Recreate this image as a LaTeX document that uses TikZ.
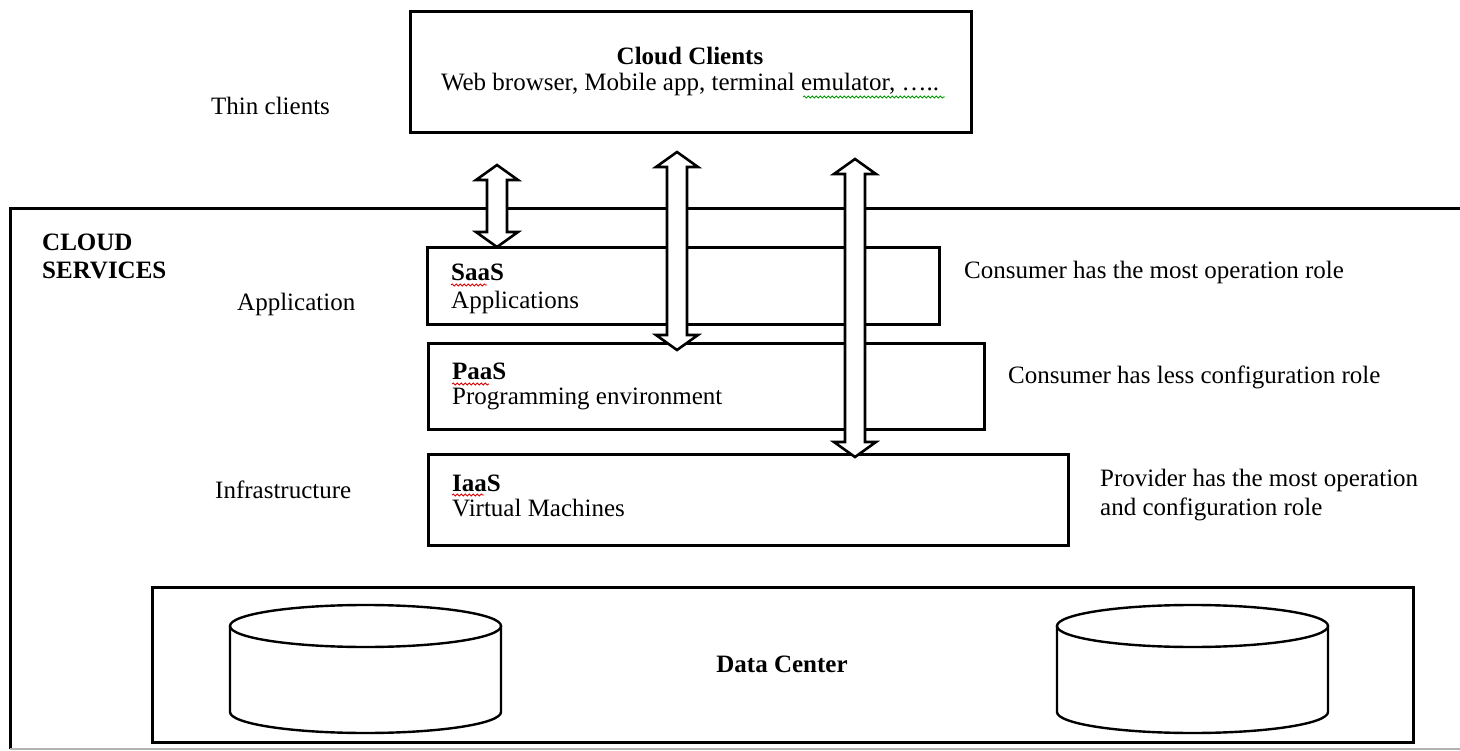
\documentclass[tikz,border=0pt]{standalone}
\usepackage{fontspec}
\setmainfont{Liberation Serif}
\usetikzlibrary{calc,decorations.pathmorphing}

\tikzset{
  layerbox/.style={draw, line width=2.6pt, inner sep=0pt, anchor=north west},
  txt/.style={font=\fontsize{25}{28}\selectfont, inner sep=0pt, anchor=base west},
  txtc/.style={font=\fontsize{25}{28}\selectfont, inner sep=0pt, anchor=base},
  heading/.style={txt, font=\fontsize{25}{28}\selectfont\bfseries},
  arrowbody/.style={draw, fill=white, line width=2.6pt, line join=miter},
  squiggle/.style={decorate, decoration={snake, amplitude=1.1pt, segment length=4pt}, line width=0.8pt},
  cyl/.style={draw, fill=white, line width=2.4pt},
}

% hollow double-headed block arrow between two tips (top, bottom)
\newcommand\fatarrow[2]{%
  \draw[arrowbody] (#1) -- ($(#1)+(21,15)$) -- ($(#1)+(10,15)$)
    -- ($(#2)+(10,-15)$) -- ($(#2)+(21,-15)$) -- (#2)
    -- ($(#2)+(-21,-15)$) -- ($(#2)+(-10,-15)$)
    -- ($(#1)+(-10,15)$) -- ($(#1)+(-21,15)$) -- cycle;}

% storage cylinder: centre x, top y, bottom y, half width
\newcommand\storagecyl[4]{%
  \draw[cyl] (#1-#4,#2) -- (#1-#4,#3)
    arc[start angle=180, end angle=0, x radius=#4, y radius=21]
    -- (#1+#4,#2);
  \draw[cyl] (#1,#2) ellipse[x radius=#4, y radius=21];}

\begin{document}
\begin{tikzpicture}[x=1pt, y=-1pt]
\useasboundingbox (0,0) rectangle (1460,751);
\clip (0,0) rectangle (1460,751);

% cloud services frame
\draw[line width=3pt] (10,749) -- (10,209) -- (1470,209);
\draw[gray!60, line width=1.5pt] (10,749) -- (1470,749);

% boxes
\node[layerbox, line width=3pt, minimum width=561pt, minimum height=121pt] (clients) at (409,10) {};
\node[layerbox, minimum width=512pt, minimum height=77pt] (saas) at (426,246) {};
\node[layerbox, minimum width=556pt, minimum height=86pt] (paas) at (427,342) {};
\node[layerbox, minimum width=640pt, minimum height=91pt] (iaas) at (427,453) {};
\node[layerbox, minimum width=1261pt, minimum height=155pt] (dc) at (151,586) {};

% client box text
\node[txtc, font=\fontsize{25}{28}\selectfont\bfseries] (cctitle) at (690,65) {Cloud Clients};
\node[txtc] (ccsub) at (690,91) {Web browser, Mobile app, terminal emulator, …..};
\draw[squiggle, green!60!black] (803,97) -- (945,97);

% side labels
\node[txt] (thin) at (211,115) {Thin clients};
\node[heading] (cs1) at (42,251) {CLOUD};
\node[heading] (cs2) at (42,279) {SERVICES};
\node[txt] (app) at (237,311) {Application};
\node[txt] (infra) at (215,498) {Infrastructure};

% layer texts
\node[heading] (saast) at (451,281) {SaaS};
\node[txt] (saasd) at (451,309) {Applications};
\draw[squiggle, red!85!black] (451,285) -- (487,285);
\node[heading] (paast) at (452,380) {PaaS};
\node[txt] (paasd) at (452,405) {Programming environment};
\draw[squiggle, red!85!black] (452,384) -- (489,384);
\node[heading] (iaast) at (452,491) {IaaS};
\node[txt] (iaasd) at (452,516) {Virtual Machines};
\draw[squiggle, red!85!black] (452,495) -- (484,495);

% role notes
\node[txt] (r1) at (964,279) {Consumer has the most operation role};
\node[txt] (r2) at (1008,384) {Consumer has less configuration role};
\node[txt] (r3a) at (1100,486) {Provider has the most operation};
\node[txt] (r3b) at (1100,515) {and configuration role};

% data center
\storagecyl{365.5}{626}{712}{135.5}
\storagecyl{1192.5}{626}{712}{135.5}
\node[txtc, font=\fontsize{25}{28}\selectfont\bfseries] (dct) at (782,672) {Data Center};

% access arrows from the clients down to each layer
\coordinate (a1t) at (497,165);
\coordinate (a1b) at (497,247);
\coordinate (a2t) at (677,152);
\coordinate (a2b) at (677,350);
\coordinate (a3t) at (855,159);
\coordinate (a3b) at (855,457);
\fatarrow{a1t}{a1b}
\fatarrow{a2t}{a2b}
\fatarrow{a3t}{a3b}
\end{tikzpicture}
\end{document}
